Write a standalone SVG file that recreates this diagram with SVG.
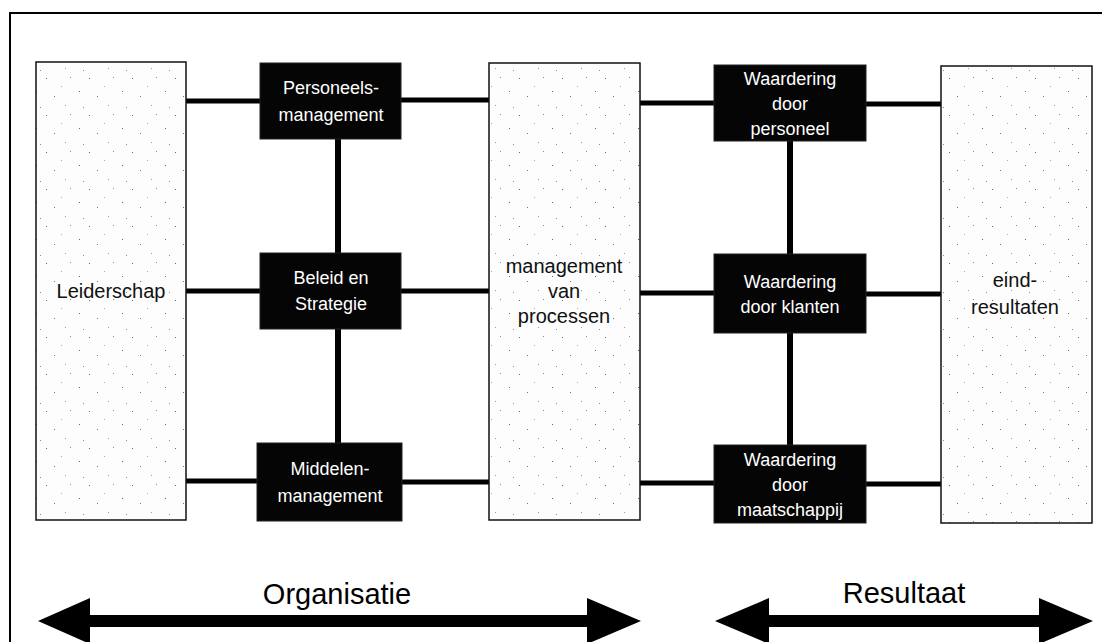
<svg xmlns="http://www.w3.org/2000/svg" width="1102" height="642" viewBox="0 0 1102 642">
<defs>
  <pattern id="speckle" width="43" height="37" patternUnits="userSpaceOnUse">
    <rect width="43" height="37" fill="#fdfdfd"/>
    <rect x="3" y="4" width="1" height="1" fill="#666"/>
    <rect x="27" y="3" width="1" height="1" fill="#888"/>
    <rect x="36" y="17" width="1" height="1" fill="#666"/>
    <rect x="11" y="22" width="1" height="1" fill="#777"/>
    <rect x="22" y="31" width="1" height="1" fill="#999"/>
    <rect x="40" y="33" width="1" height="1" fill="#888"/>
    <rect x="18" y="12" width="1" height="1" fill="#aaa"/>
  </pattern>
  <style>
    .light { fill: url(#speckle); stroke: #111; stroke-width: 1.5; }
    .dark { fill: #050505; stroke: #222; stroke-width: 1; }
    .lt { font-family: "Liberation Sans", Arial, sans-serif; font-size: 20px; fill: #111; text-anchor: middle; }
    .dt { font-family: "Liberation Sans", Arial, sans-serif; font-size: 18px; fill: #ffffff; text-anchor: middle; }
    .big { font-family: "Liberation Sans", Arial, sans-serif; font-size: 29px; fill: #000; text-anchor: middle; }
    .conn { stroke: #000; stroke-width: 5; stroke-linecap: round; fill: none; }
    .vconn { stroke: #000; stroke-width: 6; fill: none; }
  </style>
</defs>
<rect x="0" y="0" width="1102" height="642" fill="#ffffff"/>
<rect id="frame" x="10" y="13" width="1100" height="640" fill="none" stroke="#000" stroke-width="2"/>

<g id="connectors">
  <line class="conn" x1="187" y1="101" x2="260" y2="101"/>
  <line class="conn" x1="187" y1="291" x2="260" y2="291"/>
  <line class="conn" x1="187" y1="481" x2="258" y2="481"/>
  <line class="conn" x1="401" y1="100" x2="489" y2="100"/>
  <line class="conn" x1="401" y1="291" x2="489" y2="291"/>
  <line class="conn" x1="402" y1="482" x2="489" y2="482"/>
  <line class="vconn" x1="338" y1="139" x2="338" y2="253"/>
  <line class="vconn" x1="338" y1="329" x2="338" y2="443"/>
  <line class="conn" x1="640" y1="103" x2="714" y2="103"/>
  <line class="conn" x1="640" y1="293" x2="714" y2="293"/>
  <line class="conn" x1="640" y1="483" x2="714" y2="483"/>
  <line class="vconn" x1="790" y1="141" x2="790" y2="254"/>
  <line class="vconn" x1="790" y1="333" x2="790" y2="445"/>
  <line class="conn" x1="866" y1="104" x2="941" y2="104"/>
  <line class="conn" x1="866" y1="294" x2="941" y2="294"/>
  <line class="conn" x1="866" y1="484" x2="941" y2="484"/>
</g>

<g id="leiderschap">
  <rect class="light" x="36" y="62" width="150" height="458"/>
  <text class="lt" x="111" y="298">Leiderschap</text>
</g>

<g id="personeelsmanagement">
  <rect class="dark" x="260" y="63" width="141" height="76"/>
  <text class="dt" x="331" y="94">Personeels-</text>
  <text class="dt" x="331" y="121">management</text>
</g>

<g id="beleid">
  <rect class="dark" x="260" y="253" width="141" height="76"/>
  <text class="dt" x="331" y="284">Beleid en</text>
  <text class="dt" x="331" y="310">Strategie</text>
</g>

<g id="middelenmanagement">
  <rect class="dark" x="257" y="443" width="145" height="78"/>
  <text class="dt" x="330" y="475">Middelen-</text>
  <text class="dt" x="330" y="502">management</text>
</g>

<g id="processen">
  <rect class="light" x="489" y="63" width="151" height="457"/>
  <text class="lt" x="564" y="273">management</text>
  <text class="lt" x="564" y="298">van</text>
  <text class="lt" x="564" y="323">processen</text>
</g>

<g id="waardering-personeel">
  <rect class="dark" x="714" y="65" width="152" height="76"/>
  <text class="dt" x="790" y="85">Waardering</text>
  <text class="dt" x="790" y="110">door</text>
  <text class="dt" x="790" y="135">personeel</text>
</g>

<g id="waardering-klanten">
  <rect class="dark" x="714" y="254" width="152" height="79"/>
  <text class="dt" x="790" y="288">Waardering</text>
  <text class="dt" x="790" y="313">door klanten</text>
</g>

<g id="waardering-maatschappij">
  <rect class="dark" x="714" y="445" width="152" height="78"/>
  <text class="dt" x="790" y="466">Waardering</text>
  <text class="dt" x="790" y="491">door</text>
  <text class="dt" x="790" y="516">maatschappij</text>
</g>

<g id="eindresultaten">
  <rect class="light" x="941" y="66" width="151" height="457"/>
  <text class="lt" x="1015" y="287">eind-</text>
  <text class="lt" x="1015" y="314">resultaten</text>
</g>

<g id="organisatie-arrow">
  <polygon fill="#000" points="38,621 90,598 90,615 587,615 587,598 641,621 587,644 587,627 90,627 90,644"/>
  <text class="big" x="337" y="604">Organisatie</text>
</g>

<g id="resultaat-arrow">
  <polygon fill="#000" points="715,621 769,598 769,615 1039,615 1039,598 1093,621 1039,644 1039,627 769,627 769,644"/>
  <text class="big" x="904" y="603">Resultaat</text>
</g>
</svg>
